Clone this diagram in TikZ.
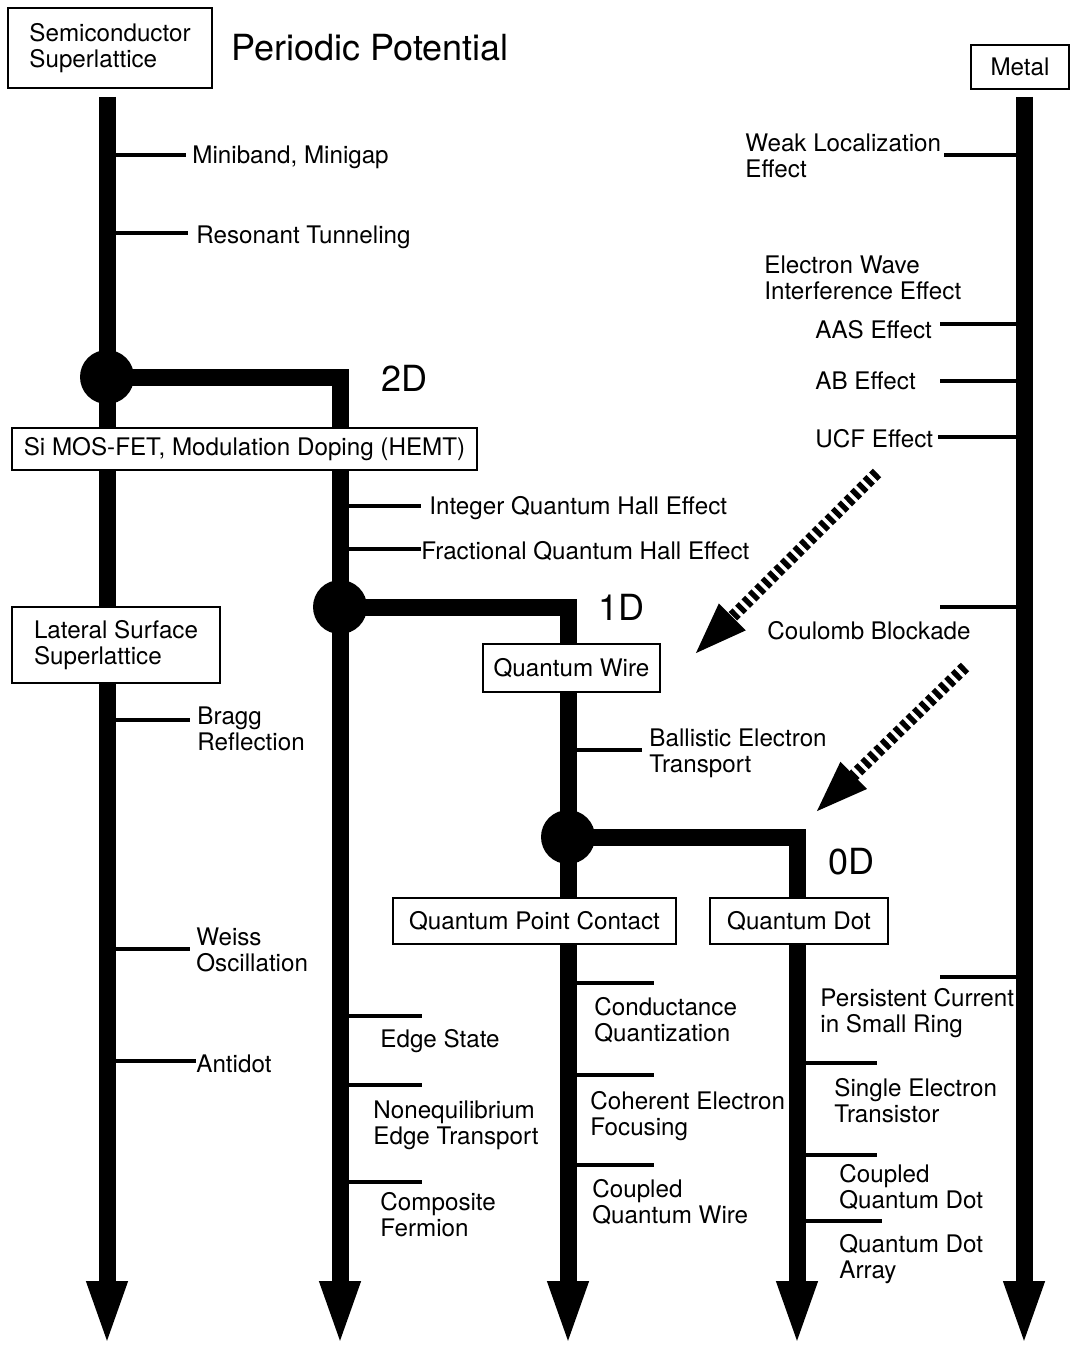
\documentclass[tikz,border=0pt]{standalone}
\usepackage{fontspec}
\setmainfont{TeX Gyre Heros}
\usetikzlibrary{arrows.meta}
\begin{document}
\begin{tikzpicture}[x=0.5pt,y=-0.5pt,
  every node/.style={font=\fontsize{12.1}{13}\selectfont},
  trunk/.style={line width=8.5pt, -{Triangle[length=33.5pt,width=18pt]}},
  tick/.style={line width=2pt},
  lbl/.style={anchor=west, inner sep=0pt, align=left, yshift=-1pt},
  big/.style={anchor=west, inner sep=0pt, font=\fontsize{18}{20}\selectfont},
  box/.style={draw, line width=1pt, fill=white, inner sep=0pt, align=left},
  junction/.style={circle, fill=black, minimum size=27pt, inner sep=0pt},
  wave/.style={line width=6pt, dash pattern=on 2.6pt off 1.9pt, -{Triangle[length=27pt,width=17pt]}}
]
\useasboundingbox (0,0) rectangle (1074,1348);

% trunk end points
\coordinate (aTop) at (107,97);
\coordinate (aEnd) at (107,1348);
\coordinate (bEnd) at (340,1348);
\coordinate (cEnd) at (568,1348);
\coordinate (dEnd) at (797,1348);
\coordinate (eTop) at (1024,97);
\coordinate (eEnd) at (1024,1348);

% junctions
\node[junction] (jA) at (107,377) {};
\node[junction] (jB) at (340,607) {};
\node[junction] (jC) at (568,837) {};

% trunks
\draw[trunk] (aTop) -- (aEnd);
\draw[trunk] (jA.center) -| (bEnd);
\draw[trunk] (jB.center) -| (cEnd);
\draw[trunk] (jC.center) -| (dEnd);
\draw[trunk] (eTop) -- (eEnd);

% boxes
\node[box, minimum width=102pt, minimum height=40pt] (ss) at (110,48) {Semiconductor\\Superlattice};
\node[box, minimum width=232.5pt, minimum height=21pt] (si) at (244.5,449) {Si MOS-FET, Modulation Doping (HEMT)};
\node[box, minimum width=104pt, minimum height=38pt] (lss) at (116,645) {Lateral Surface\\Superlattice};
\node[box, minimum width=88.5pt, minimum height=24pt] (qw) at (571.5,668) {Quantum Wire};
\node[box, minimum width=141.5pt, minimum height=23pt] (qpc) at (534.5,921) {Quantum Point Contact};
\node[box, minimum width=89pt, minimum height=23pt] (qd) at (799,921) {Quantum Dot};
\node[box, minimum width=49pt, minimum height=22pt] (metal) at (1020,67) {Metal};

% big labels
\node[big] (title) at (231,48) {Periodic Potential};
\node[big] (d2) at (381,378) {2D};
\node[big] (d1) at (598,607) {1D};
\node[big] (d0) at (828,862) {0D};

% labels, column A
\node[lbl] (mini) at (192,155) {Miniband, Minigap};
\node[lbl] (reso) at (196,235) {Resonant Tunneling};
\node[lbl] (bragg) at (197,727) {Bragg\\Reflection};
\node[lbl] (weiss) at (196,948) {Weiss\\Oscillation};
\node[lbl] (antidot) at (196,1062) {Antidot};
% column B
\node[lbl] (iqhe) at (429,506) {Integer Quantum Hall Effect};
\node[lbl] (fqhe) at (421,549) {Fractional Quantum Hall Effect};
\node[lbl] (edge) at (380,1039) {Edge State};
\node[lbl] (noneq) at (373,1123) {Nonequilibrium\\Edge Transport};
\node[lbl] (comp) at (380,1213) {Composite\\Fermion};
% column C
\node[lbl] (ball) at (649,751) {Ballistic Electron\\Transport};
\node[lbl] (cond) at (594,1018) {Conductance\\Quantization};
\node[lbl] (coh) at (590,1114) {Coherent Electron\\Focusing};
\node[lbl] (cqw) at (592,1200) {Coupled\\Quantum Wire};
% column D
\node[lbl] (set) at (834,1099) {Single Electron\\Transistor};
\node[lbl] (cqd) at (839,1185) {Coupled\\Quantum Dot};
\node[lbl] (qda) at (839,1257) {Quantum Dot\\Array};
% column E (metal)
\node[lbl] (weak) at (745,154) {Weak Localization\\Effect};
\node[lbl] (ewie) at (764,276) {Electron Wave\\Interference Effect};
\node[lbl] (aas) at (815,328) {AAS Effect};
\node[lbl] (ab) at (815,379) {AB Effect};
\node[lbl] (ucf) at (815,437) {UCF Effect};
\node[lbl] (coul) at (767,629) {Coulomb Blockade};
\node[lbl] (pers) at (820,1011) {Persistent Current\\in Small Ring};

% ticks
\draw[tick] (107,155) -- (186,155);
\draw[tick] (107,233) -- (188,233);
\draw[tick] (107,720) -- (190,720);
\draw[tick] (107,949) -- (190,949);
\draw[tick] (107,1061) -- (196,1061);
\draw[tick] (340,506) -- (421,506);
\draw[tick] (340,549) -- (421,549);
\draw[tick] (340,1016) -- (422,1016);
\draw[tick] (340,1085) -- (422,1085);
\draw[tick] (340,1182) -- (422,1182);
\draw[tick] (568,750) -- (642,750);
\draw[tick] (568,983) -- (654,983);
\draw[tick] (568,1075) -- (654,1075);
\draw[tick] (568,1165) -- (654,1165);
\draw[tick] (797,1063) -- (877,1063);
\draw[tick] (797,1155) -- (877,1155);
\draw[tick] (797,1221) -- (882,1221);
\draw[tick] (1024,155) -- (944,155);
\draw[tick] (1024,324) -- (940,324);
\draw[tick] (1024,381) -- (940,381);
\draw[tick] (1024,437) -- (938,437);
\draw[tick] (1024,607) -- (940,607);
\draw[tick] (1024,977) -- (940,977);

% striped arrows
\coordinate (w1s) at (877,473);
\coordinate (w1e) at (694,655);
\coordinate (w2s) at (965,667);
\coordinate (w2e) at (815,813);
\draw[wave] (w1s) -- (w1e);
\draw[wave] (w2s) -- (w2e);
\end{tikzpicture}
\end{document}
